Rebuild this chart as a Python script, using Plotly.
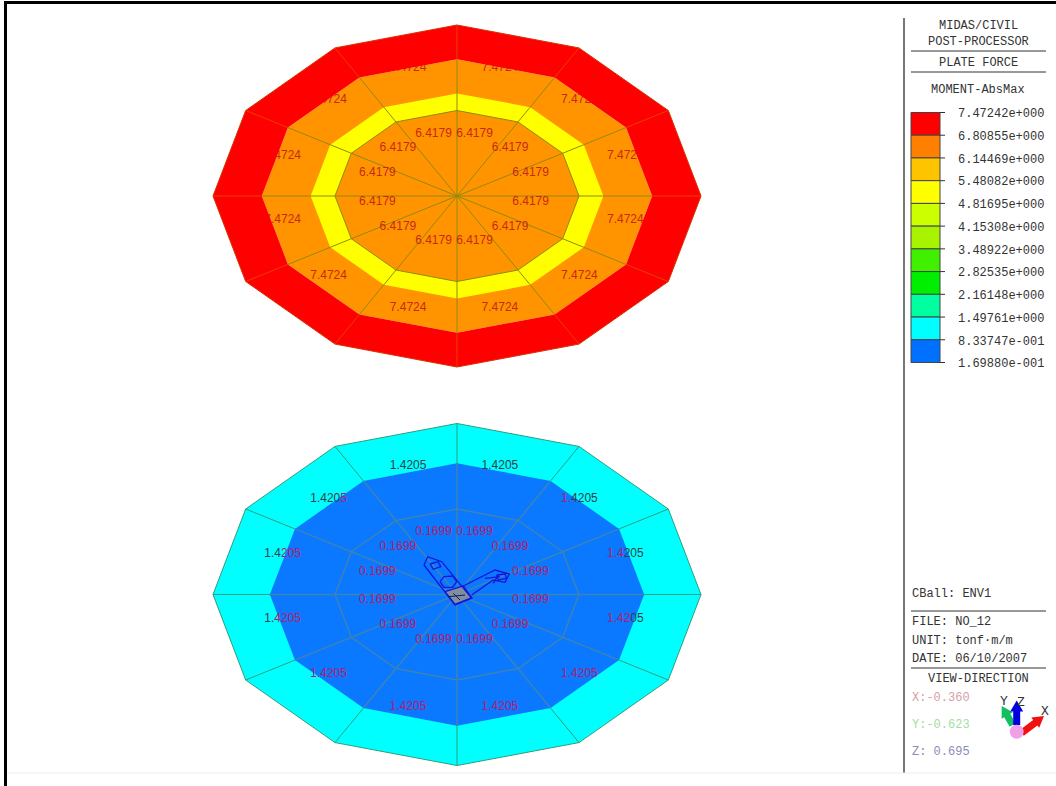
import math
import plotly.graph_objects as go

# ---------- data ----------
legend_values = ["7.47242e+000", "6.80855e+000", "6.14469e+000", "5.48082e+000",
                 "4.81695e+000", "4.15308e+000", "3.48922e+000", "2.82535e+000",
                 "2.16148e+000", "1.49761e+000", "8.33747e-001", "1.69880e-001"]
legend_colors = ["#ff0000", "#ff8000", "#ffc400", "#ffff00", "#ccff00", "#a8f400",
                 "#40f000", "#00ee00", "#00ffa0", "#00ffff", "#0070ff"]
top_inner_value = "6.4179"
top_outer_value = "7.4724"
bot_inner_value = "0.1699"
bot_outer_value = "1.4205"
# how the outer bottom labels straddle the contour edge: (magenta-first?, split index)
bot_split = [(False, 6), (True, 2), (True, 3), (True, 4), (True, 6), (True, 6),
             (True, 6), (True, 6), (False, 2), (False, 3), (False, 5), (False, 6)]

# plate geometry in screen units
TOP_C = (457, 196)
BOT_C = (457, 594.5)
RX, RY = 244, 171
SECTORS = 12
TOP_BANDS = [0.8, 0.6, 0.5]
BOT_BAND = 0.767
MESH_RING = 0.5

panel_header = [("MIDAS/CIVIL", 24), ("POST-PROCESSOR", 40), ("PLATE FORCE", 61), ("MOMENT-AbsMax", 88)]
panel_footer = [("CBall: ENV1", 592.5, "#333"), ("FILE: NO_12", 620.5, "#333"),
                ("UNIT: tonf·m/m", 639.5, "#333"), ("DATE: 06/10/2007", 657.5, "#333"),
                ("X:-0.360", 696, "#d8a0a8"), ("Y:-0.623", 723, "#a0e0a0"), ("Z: 0.695", 750, "#8c8cb8")]

# model icon outlines at the plate centre
icon_left = [(424, 565), (427.7, 556.7), (441.7, 561.7), (471.7, 598.3), (455, 605), (445, 591.7), (424, 565)]
icon_right = [(463.3, 586), (495, 570), (509.3, 574), (505, 582.3), (493.3, 580), (471.7, 595)]
icon_base = [(445, 591.7), (463.3, 586), (471.7, 597.7), (455, 604.3), (445, 591.7)]
icon_hex = [(440, 581.7), (444, 576.7), (452.7, 576), (456.7, 581.7), (452.7, 587.3), (444, 587.3), (440, 581.7)]
icon_small_l = [(430, 564), (438.3, 561.7), (440.7, 566.7), (433.3, 569.3), (430, 564)]
icon_small_r = [(496.7, 575), (505, 574), (506.7, 578.3), (498.3, 580), (496.7, 575)]
icon_x = [(485, 578.3), (500, 576.7), None, (493.3, 583.3), (498.3, 575)]
icon_star = [(453.3, 593.3), (460, 600), None, (448.3, 596.7), (465, 595)]

# view triad
ball = (1016.7, 731.7)
arrows = [((1012.7, 725), (1001.7, 706), "#10c060"),
          ((1016.7, 725), (1016.7, 700.5), "#0000e0"),
          ((1021.7, 733), (1044, 716), "#f01010")]
triad_letters = [("Y", 1004, 699.5), ("Z", 1021, 701), ("X", 1045, 710)]

# ---------- helpers ----------
def pt(c, r, a):
    t = math.radians(a)
    return c[0] + RX * r * math.sin(t), c[1] - RY * r * math.cos(t)

ANGLES = [i * 360 / SECTORS for i in range(SECTORS)]

fig = go.Figure()

def poly(pts, color, line=None, width=1):
    fig.add_trace(go.Scatter(x=[p[0] for p in pts] + [pts[0][0]], y=[p[1] for p in pts] + [pts[0][1]],
                             mode="lines", fill="toself", fillcolor=color,
                             line=dict(color=line or color, width=width if line else 0),
                             hoverinfo="skip", showlegend=False))

def disc(c, r, color):
    poly([pt(c, r, a) for a in ANGLES], color)

def ring(c, r1, r2, color):
    o = [pt(c, r2, a) for a in ANGLES + [0]]
    i = [pt(c, r1, a) for a in [0] + ANGLES[::-1]]
    poly(o + i, color)

def lines(segs, color, width=1):
    xs, ys = [], []
    for s in segs:
        for p in s:
            xs.append(None if p is None else p[0])
            ys.append(None if p is None else p[1])
        xs.append(None)
        ys.append(None)
    fig.add_trace(go.Scatter(x=xs, y=ys, mode="lines", line=dict(color=color, width=width),
                             hoverinfo="skip", showlegend=False))

def spokes(c, r1, r2, color, width=1):
    lines([[pt(c, r1, a), pt(c, r2, a)] for a in ANGLES], color, width)

def outline(c, r, color, width=1):
    lines([[pt(c, r, a) for a in ANGLES + [0]]], color, width)

def labels(c, texts, r, color, dy):
    xy = [pt(c, r, a + 15) for a in ANGLES]
    fig.add_trace(go.Scatter(x=[p[0] - 3 for p in xy], y=[p[1] + dy for p in xy], mode="text", text=texts,
                             textposition="middle center",
                             textfont=dict(family="Liberation Sans", size=12, color=color),
                             hoverinfo="skip", showlegend=False))

R_IN, R_OUT = 0.325, 0.727
DY_IN, DY_OUT = -8.5, -8.0

# ---------- upper plate ----------
disc(TOP_C, TOP_BANDS[0], "#ff9400")
ring(TOP_C, TOP_BANDS[2], TOP_BANDS[1], "#ffff00")
spokes(TOP_C, 0, TOP_BANDS[0], "#8f8a10")
outline(TOP_C, MESH_RING, "#8f8a10")
labels(TOP_C, [top_inner_value] * SECTORS, R_IN, "#c62a10", DY_IN)
labels(TOP_C, [top_outer_value] * SECTORS, R_OUT, "#c62a10", DY_OUT)
ring(TOP_C, TOP_BANDS[0], 1.0, "#ff0000")
spokes(TOP_C, TOP_BANDS[0], 1.0, "#e84000")
outline(TOP_C, 1.0, "#d83000")

# ---------- lower plate ----------
disc(BOT_C, 1.0, "#00ffff")
disc(BOT_C, BOT_BAND, "#0a78ff")
spokes(BOT_C, 0, BOT_BAND, "#3d84b4", 1.5)
outline(BOT_C, MESH_RING, "#3d84b4", 1.5)
spokes(BOT_C, BOT_BAND, 1.0, "#2c9f7c")
outline(BOT_C, 1.0, "#2c9f7c")

DARK, MAG = "#33404a", "#b3206c"
def split_label(txt, mag_first, k):
    a, b = (MAG, DARK) if mag_first else (DARK, MAG)
    s = f'<span style="color:{a}">{txt[:k]}</span>'
    if k < len(txt):
        s += f'<span style="color:{b}">{txt[k:]}</span>'
    return s

labels(BOT_C, [bot_inner_value] * SECTORS, R_IN, MAG, DY_IN)
labels(BOT_C, [split_label(bot_outer_value, m, k) for m, k in bot_split], R_OUT, DARK, DY_OUT)

poly(icon_base, "#7f8ea0", "#1414dc", 1.3)
lines([icon_left, icon_right, icon_hex, icon_small_l, icon_small_r, icon_x], "#1414dc", 1.3)
lines([icon_star], "#102050", 1)

# ---------- right panel ----------
cell_h = (362.5 - 112.5) / len(legend_colors)
tops = [112.5 + i * cell_h for i in range(len(legend_colors))]
fig.add_trace(go.Bar(x=[925.5] * len(legend_colors), y=[cell_h] * len(legend_colors), base=tops, width=29,
                     marker=dict(color=legend_colors, line=dict(color="#444", width=1)),
                     hoverinfo="skip", showlegend=False))
lines([[(940, 112.5 + i * cell_h), (945, 112.5 + i * cell_h)] for i in range(len(legend_values))], "#333", 1)

lines([[(904, 18), (904, 773)]], "#555", 1.6)
lines([[(911, 51), (1046, 51)], [(911, 72), (1046, 72)], [(911, 611), (1046, 611)], [(911, 668), (1046, 668)]], "#333", 1)

# frame
lines([[(5.5, 786), (5.5, 2.5), (1056, 2.5)]], "#000", 3)
lines([[(7, 773), (1056, 773)]], "#eeeeee", 1)

# triad
for (a, b, col) in arrows:
    dx, dy = b[0] - a[0], b[1] - a[1]
    L = math.hypot(dx, dy)
    ux, uy = dx / L, dy / L
    nx, ny = -uy, ux
    m = (b[0] - ux * 11, b[1] - uy * 11)
    sw, hw = 3.5, 6.5
    poly([(a[0] + nx * sw, a[1] + ny * sw), (m[0] + nx * sw, m[1] + ny * sw), (m[0] + nx * hw, m[1] + ny * hw), b,
          (m[0] - nx * hw, m[1] - ny * hw), (m[0] - nx * sw, m[1] - ny * sw), (a[0] - nx * sw, a[1] - ny * sw)], col)
fig.add_trace(go.Scatter(x=[ball[0]], y=[ball[1]], mode="markers", marker=dict(size=14, color="#f0a0e8"),
                         hoverinfo="skip", showlegend=False))

MONO = "Liberation Mono"
def note(text, x, y, anchor="left", color="#333", size=12):
    fig.add_annotation(x=x, y=y + 1.8, text=text, showarrow=False, xanchor=anchor, yanchor="middle", xref="x", yref="y",
                       borderpad=0, font=dict(family=MONO, size=size, color=color))

for t, y in panel_header:
    note(t, 978, y, "center")
note("VIEW-DIRECTION", 978, 677, "center")
for i, t in enumerate(legend_values):
    note(t, 957, 112.5 + i * cell_h)
for t, y, col in panel_footer:
    note(t, 911, y, color=col)
for t, x, y in triad_letters:
    note(t, x, y, "center", "#333", 13)

fig.update_layout(width=1056, height=786, margin=dict(l=0, r=0, t=0, b=0), autosize=False,
                  paper_bgcolor="white", plot_bgcolor="white", showlegend=False,
                  xaxis=dict(range=[0, 1056], visible=False, fixedrange=True),
                  yaxis=dict(range=[786, 0], visible=False, fixedrange=True))
fig.write_html("out.html", config={"displayModeBar": False},
               post_script="document.body.style.margin='0';document.documentElement.style.overflow='hidden';")
